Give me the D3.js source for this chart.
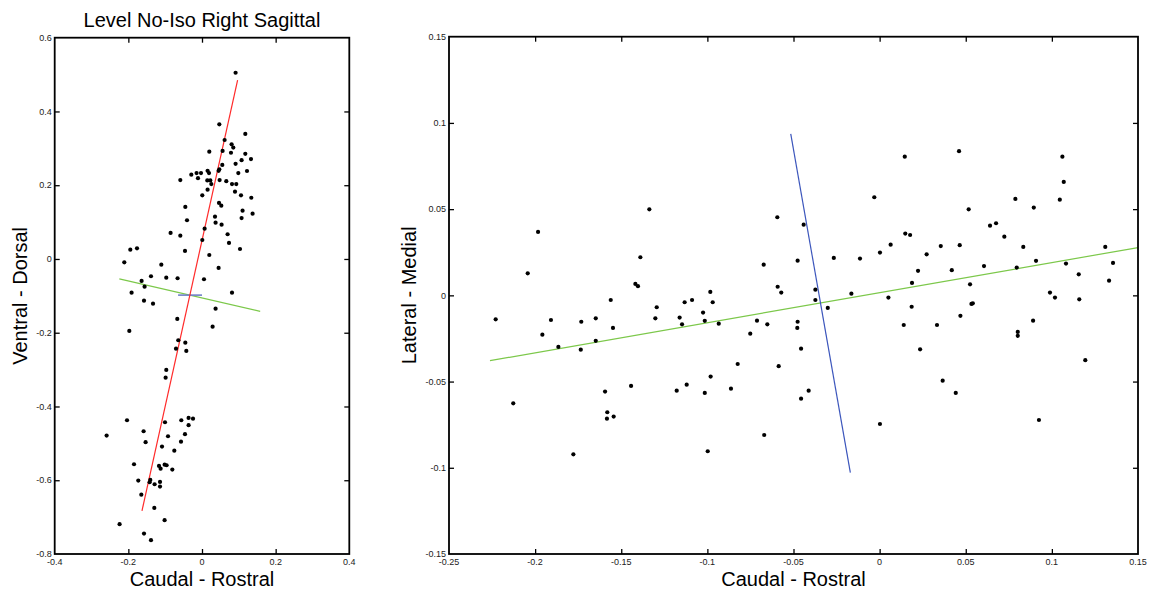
<!DOCTYPE html>
<html><head><meta charset="utf-8">
<script src="https://cdn.jsdelivr.net/npm/d3@7"></script>
<style>
html,body{margin:0;padding:0;background:#fff;}
svg{display:block;font-family:"Liberation Sans",Arial,Helvetica,sans-serif;}
</style></head>
<body><svg id="c" width="1153" height="590"></svg>
<script>
// ---------- Left panel data (Caudal-Rostral vs Ventral-Dorsal) ----------
const leftX = [0.0912,0.047,0.1176,0.0614,0.0804,0.085,0.0198,0.0559,0.0787,0.1176,0.133,0.1075,0.0551,0.0912,0.047,0.0451,0.1222,0.0986,-0.029,-0.0147,-0.0027,0.0152,0.019,-0.0109,-0.0589,0.0144,0.0225,0.0478,0.0253,0.066,0.0815,0.0931,0.0152,0.0896,0.1059,0.0008,0.1339,0.0462,0.0524,-0.0453,0.1102,0.1374,0.0353,0.1075,-0.0407,0.0369,0.0532,0.0071,-0.0853,0.0695,-0.0589,0.0008,0.0733,0.1032,-0.0462,-0.1947,-0.1765,0.0198,-0.211,-0.1105,0.0451,-0.1385,-0.097,-0.0663,0.0054,-0.164,-0.1559,-0.1912,0.0815,-0.1575,-0.133,0.0369,-0.0671,0.0288,-0.1974,-0.0644,-0.0453,-0.0706,-0.0426,-0.097,-0.0988,-0.2036,-0.0364,-0.0244,-0.0562,-0.1005,-0.0364,-0.1586,-0.259,-0.0462,-0.0923,-0.1531,-0.057,-0.1086,-0.0752,-0.1846,-0.1168,-0.1124,-0.1015,-0.0961,-0.0806,-0.173,-0.1404,-0.1423,-0.114,-0.1287,-0.114,-0.1648,-0.1295,-0.1015,-0.2238,-0.1575,-0.1385];
const leftY = [0.505,0.365,0.339,0.3226,0.311,0.302,0.291,0.293,0.288,0.285,0.271,0.268,0.255,0.258,0.243,0.239,0.2386,0.233,0.2285,0.233,0.233,0.239,0.233,0.219,0.214,0.213,0.213,0.214,0.203,0.211,0.203,0.203,0.188,0.1825,0.1727,0.1727,0.166,0.152,0.1445,0.141,0.131,0.1228,0.1147,0.111,0.105,0.0984,0.093,0.0821,0.0705,0.067,0.0632,0.0515,0.0434,0.0271,0.0217,0.0252,0.029,0.0108,-0.009,-0.0155,-0.0244,-0.0469,-0.0507,-0.0523,-0.055,-0.0596,-0.0751,-0.0914,-0.0914,-0.113,-0.1212,-0.1347,-0.1627,-0.1835,-0.1952,-0.2204,-0.2269,-0.2432,-0.2494,-0.3009,-0.3218,-0.4373,-0.431,-0.433,-0.4373,-0.4427,-0.4508,-0.4671,-0.479,-0.4752,-0.4807,-0.4969,-0.4953,-0.5088,-0.5197,-0.5566,-0.5612,-0.5685,-0.5577,-0.5593,-0.5712,-0.601,-0.5991,-0.6054,-0.6046,-0.6108,-0.6173,-0.639,-0.675,-0.7084,-0.7192,-0.7447,-0.7626];
const leftRedLine   = [[-0.163,-0.683],[0.0967,0.485]];
const leftGreenLine = [[-0.2245,-0.054],[0.158,-0.142]];
const leftBlueLine  = [[-0.065,-0.098],[0.0,-0.098]];
const leftXTicks = [-0.4,-0.2,0,0.2,0.4];
const leftYTicks = [-0.8,-0.6,-0.4,-0.2,0,0.2,0.4,0.6];

// ---------- Right panel data (Caudal-Rostral vs Lateral-Medial) ----------
const rightX = [-0.1337,-0.1983,-0.2043,-0.1389,-0.1418,-0.1403,-0.0673,-0.0594,-0.0592,-0.1561,-0.0983,-0.1089,-0.1132,-0.0969,-0.1294,-0.1025,-0.2229,-0.1908,-0.1732,-0.1648,-0.1958,-0.1865,-0.1735,-0.1648,-0.1548,-0.1302,-0.1161,-0.1147,-0.1015,-0.0934,-0.0712,-0.0652,-0.0751,-0.0824,-0.0586,-0.2127,-0.1594,-0.1581,-0.1583,-0.1544,-0.1443,-0.1178,-0.112,-0.1015,-0.0981,-0.0863,-0.1778,-0.0998,-0.067,-0.0441,-0.0476,-0.0571,-0.0373,-0.0373,-0.0301,-0.0266,-0.0114,-0.0164,-0.0031,0.0002,0.0064,0.0051,0.0146,0.0149,0.0177,0.0188,0.0223,0.0273,0.0355,0.0186,0.0419,0.0461,0.0465,0.0517,0.0525,0.0469,0.0533,0.0541,0.0606,0.0641,0.0676,0.0724,0.0788,0.0796,0.0834,0.0895,0.0908,0.1061,0.1069,0.1046,0.1082,0.1156,0.0989,0.1018,0.1159,0.131,0.1355,0.1332,-0.0476,-0.0478,-0.0456,-0.0412,-0.0456,0.0002,0.014,0.0333,0.0235,0.0366,0.0442,0.0802,0.0802,0.0891,0.1194,0.0925];
const rightY = [0.0499,0.0368,0.0128,0.0221,0.0066,0.0053,0.0178,0.0453,0.005,-0.0027,0.002,-0.0027,-0.004,-0.004,-0.0069,-0.01,-0.0139,-0.0143,-0.0153,-0.0133,-0.0228,-0.0299,-0.0315,-0.0264,-0.0189,-0.0133,-0.0129,-0.0168,-0.0148,-0.0164,-0.0147,-0.0168,-0.0222,-0.0398,-0.0411,-0.0626,-0.0558,-0.0678,-0.0715,-0.0703,-0.0525,-0.0553,-0.0518,-0.0566,-0.0471,-0.0541,-0.0922,-0.0904,-0.081,0.041,0.0201,0.0016,0.0033,-0.0027,-0.0073,0.0217,0.0213,0.001,0.0569,0.0248,0.0294,-0.0013,0.0804,0.0358,0.035,0.0072,0.0142,0.0238,0.0286,-0.0066,0.0146,0.0836,0.0291,0.0499,0.0064,-0.0119,-0.005,-0.0046,0.017,0.0404,0.0418,0.034,0.0559,0.0161,0.0281,0.0509,0.02,0.0804,0.0658,0.0555,0.0184,0.0122,0.0016,-0.0013,-0.0023,0.0281,0.0188,0.0085,-0.0153,-0.0189,-0.0309,-0.0553,-0.0599,-0.0746,-0.0172,-0.0172,-0.0313,-0.0495,-0.0566,-0.0212,-0.0235,-0.0147,-0.0376,-0.0723];
const rightGreenLine = [[-0.2262,-0.0379],[0.15,0.0277]];
const rightBlueLine  = [[-0.0516,0.0936],[-0.017,-0.1028]];
const rightXTicks = [-0.25,-0.2,-0.15,-0.1,-0.05,0,0.05,0.1,0.15];
const rightYTicks = [-0.15,-0.1,-0.05,0,0.05,0.1,0.15];

const svg = d3.select("#c");
const fmt = v => (Math.abs(v) < 1e-9 ? "0" : String(+v.toFixed(2)));

function panel(o) {
  const x = d3.scaleLinear().domain(o.xdom).range([o.x0, o.x1]);
  const y = d3.scaleLinear().domain(o.ydom).range([o.y1, o.y0]);
  const g = svg.append("g");
  const tl = 5;
  const innerX = o.xticks.filter(t => t > o.xdom[0] + 1e-9 && t < o.xdom[1] - 1e-9);
  const innerY = o.yticks.filter(t => t > o.ydom[0] + 1e-9 && t < o.ydom[1] - 1e-9);
  g.append("g").attr("transform", `translate(0,${o.y1})`)
    .call(d3.axisBottom(x).tickValues(innerX).tickSize(-tl).tickFormat(""))
    .call(a => a.select(".domain").remove());
  g.append("g").attr("transform", `translate(0,${o.y0})`)
    .call(d3.axisTop(x).tickValues(innerX).tickSize(-tl).tickFormat(""))
    .call(a => a.select(".domain").remove());
  g.append("g").attr("transform", `translate(${o.x0},0)`)
    .call(d3.axisLeft(y).tickValues(innerY).tickSize(-tl).tickFormat(""))
    .call(a => a.select(".domain").remove());
  g.append("g").attr("transform", `translate(${o.x1},0)`)
    .call(d3.axisRight(y).tickValues(innerY).tickSize(-tl).tickFormat(""))
    .call(a => a.select(".domain").remove());
  g.selectAll(".tick line").attr("stroke", "#000").attr("stroke-width", 1.3);
  g.append("g").selectAll("text").data(o.xticks).join("text")
    .attr("x", d => x(d)).attr("y", o.y1 + 11)
    .attr("text-anchor", "middle").attr("font-size", 9).attr("fill", "#222")
    .text(fmt);
  g.append("g").selectAll("text").data(o.yticks).join("text")
    .attr("x", o.x0 - 3).attr("y", d => y(d)).attr("dy", "0.35em")
    .attr("text-anchor", "end").attr("font-size", 9).attr("fill", "#222")
    .text(fmt);
  const line = d3.line().x(d => x(d[0])).y(d => y(d[1]));
  o.lines.forEach(L => {
    g.append("path").attr("d", line(L.pts)).attr("fill", "none")
      .attr("stroke", L.color).attr("stroke-width", L.w || 1.2);
  });
  g.append("g").selectAll("circle").data(o.xs.map((v, i) => [v, o.ys[i]])).join("circle")
    .attr("cx", d => x(d[0])).attr("cy", d => y(d[1])).attr("r", 2.1).attr("fill", "#000");
  g.append("rect").attr("x", o.x0).attr("y", o.y0)
    .attr("width", o.x1 - o.x0).attr("height", o.y1 - o.y0)
    .attr("fill", "none").attr("stroke", "#000").attr("stroke-width", 1.8);
  const cx = (o.x0 + o.x1) / 2, cy = (o.y0 + o.y1) / 2;
  g.append("text").attr("x", cx).attr("y", 586).attr("text-anchor", "middle")
    .attr("font-size", 20).attr("fill", "#000").text(o.xlabel);
  g.append("text").attr("transform", `translate(${o.ylabX},${cy}) rotate(-90)`)
    .attr("text-anchor", "middle").attr("font-size", 20).attr("fill", "#000").text(o.ylabel);
  if (o.title) {
    g.append("text").attr("x", cx).attr("y", 27).attr("text-anchor", "middle")
      .attr("font-size", 20).attr("fill", "#000").text(o.title);
  }
}

panel({
  x0: 54.7, x1: 349.3, y0: 37.7, y1: 554,
  xdom: [-0.4, 0.4], ydom: [-0.8, 0.6],
  xticks: leftXTicks, yticks: leftYTicks,
  xs: leftX, ys: leftY,
  lines: [
    {pts: leftGreenLine, color: "#7cc84a"},
    {pts: leftBlueLine, color: "#7080c8", w: 1.6},
    {pts: leftRedLine, color: "#ff2a2a"}
  ],
  xlabel: "Caudal - Rostral", ylabel: "Ventral - Dorsal", ylabX: 27,
  title: "Level No-Iso Right Sagittal"
});

panel({
  x0: 449, x1: 1138, y0: 36.7, y1: 554,
  xdom: [-0.25, 0.15], ydom: [-0.15, 0.15],
  xticks: rightXTicks, yticks: rightYTicks,
  xs: rightX, ys: rightY,
  lines: [
    {pts: rightGreenLine, color: "#7cc84a"},
    {pts: rightBlueLine, color: "#3c56bc"}
  ],
  xlabel: "Caudal - Rostral", ylabel: "Lateral - Medial", ylabX: 416
});
</script>
</body></html>
